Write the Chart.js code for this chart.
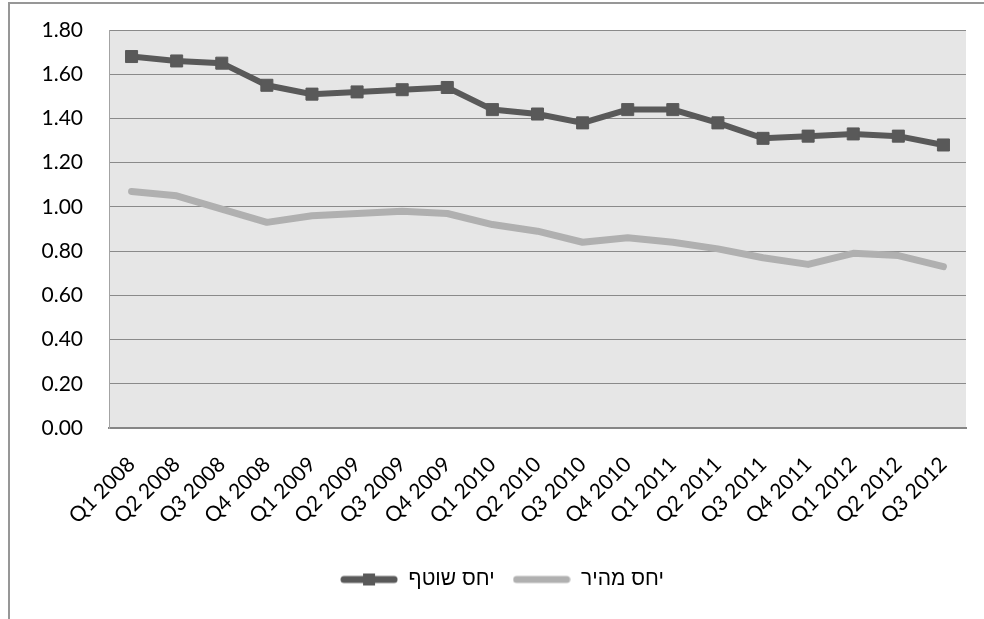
<!DOCTYPE html>
<html>
<head>
<meta charset="utf-8">
<script src="https://cdn.jsdelivr.net/npm/chart.js@4.4.1/dist/chart.umd.min.js"></script>
<style>
  html, body { margin: 0; padding: 0; background: #ffffff; overflow: hidden; }
  #wrap { position: relative; width: 984px; height: 619px; }
  #frame { position: absolute; left: 8px; top: 2px; width: 1000px; height: 700px;
           border-left: 2px solid #979797; border-top: 2px solid #979797; box-sizing: border-box; }
  #c { position: absolute; left: 0; top: 0; }
</style>
</head>
<body>
<div id="wrap">
  <div id="frame"></div>
  <canvas id="c" width="984" height="619"></canvas>
</div>
<script>
// Quarters on the horizontal axis
const quarters = [
  'Q1 2008', 'Q2 2008', 'Q3 2008', 'Q4 2008',
  'Q1 2009', 'Q2 2009', 'Q3 2009', 'Q4 2009',
  'Q1 2010', 'Q2 2010', 'Q3 2010', 'Q4 2010',
  'Q1 2011', 'Q2 2011', 'Q3 2011', 'Q4 2011',
  'Q1 2012', 'Q2 2012', 'Q3 2012'
];

// Current ratio
const currentRatio = [
  1.68, 1.66, 1.65, 1.55,
  1.51, 1.52, 1.53, 1.54,
  1.44, 1.42, 1.38, 1.44,
  1.44, 1.38, 1.31, 1.32,
  1.33, 1.32, 1.28
];

// Quick ratio
const quickRatio = [
  1.07, 1.05, 0.99, 0.93,
  0.96, 0.97, 0.98, 0.97,
  0.92, 0.89, 0.84, 0.86,
  0.84, 0.81, 0.77, 0.74,
  0.79, 0.78, 0.73
];

const seriesNames = ['יחס שוטף', 'יחס מהיר'];
const yTicks = [0, 0.2, 0.4, 0.6, 0.8, 1.0, 1.2, 1.4, 1.6, 1.8];

const DARK = '#595959';
const LIGHT = '#b0b0b0';

// Legend swatches: a thick line, with a square marker for the current ratio
function makeSwatch(color, withMarker) {
  const cv = document.createElement('canvas');
  cv.width = 58; cv.height = 14;
  const g = cv.getContext('2d');
  g.strokeStyle = color;
  g.lineWidth = 7;
  g.lineCap = 'round';
  g.beginPath(); g.moveTo(4, 7); g.lineTo(54, 7); g.stroke();
  if (withMarker) {
    g.fillStyle = color;
    g.fillRect(23, 1, 12, 12);
  }
  return cv;
}
const swatches = [makeSwatch(DARK, true), makeSwatch(LIGHT, false)];

// Grey plot-area fill
const plotBackground = {
  id: 'plotBackground',
  beforeDraw(chart) {
    const { ctx, chartArea: a } = chart;
    ctx.save();
    ctx.fillStyle = '#e6e6e6';
    ctx.fillRect(a.left, a.top, a.right - a.left, a.bottom - a.top);
    ctx.restore();
  }
};

const tickFont = { family: 'Lato, "Liberation Sans", sans-serif', size: 21 };

new Chart(document.getElementById('c'), {
  type: 'line',
  data: {
    labels: quarters,
    datasets: [
      {
        label: seriesNames[0],
        data: currentRatio,
        borderColor: DARK,
        backgroundColor: DARK,
        borderWidth: 6,
        tension: 0,
        pointStyle: 'rect',
        pointRadius: 8.5,
        pointBorderWidth: 1,
        pointBackgroundColor: DARK,
        pointBorderColor: DARK,
        fill: false
      },
      {
        label: seriesNames[1],
        data: quickRatio,
        borderColor: LIGHT,
        backgroundColor: LIGHT,
        borderWidth: 7,
        borderCapStyle: 'round',
        borderJoinStyle: 'round',
        tension: 0,
        pointRadius: 0,
        fill: false
      }
    ]
  },
  options: {
    responsive: false,
    animation: false,
    devicePixelRatio: 1,
    layout: { padding: { left: 38, right: 18, top: 30, bottom: 19 } },
    plugins: {
      tooltip: { enabled: false },
      legend: {
        position: 'bottom',
        labels: {
          usePointStyle: true,
          pointStyleWidth: 58,
          boxHeight: 14,
          padding: 18,
          color: '#000000',
          font: { family: '"Liberation Sans", Arial, sans-serif', size: 21 },
          generateLabels(chart) {
            return chart.data.datasets.map((ds, i) => ({
              text: ds.label,
              pointStyle: swatches[i],
              fillStyle: ds.borderColor,
              strokeStyle: 'rgba(0,0,0,0)',
              lineWidth: 0,
              hidden: !chart.isDatasetVisible(i),
              datasetIndex: i
            }));
          }
        }
      }
    },
    scales: {
      x: {
        type: 'category',
        offset: true,
        grid: { display: false },
        border: { display: true, color: '#868686', width: 2 },
        ticks: {
          autoSkip: false,
          maxRotation: 45,
          minRotation: 45,
          padding: 16,
          color: '#000000',
          font: tickFont
        },
        afterFit(scale) { scale.height = 123; }
      },
      y: {
        min: 0,
        max: 1.8,
        afterBuildTicks(scale) { scale.ticks = yTicks.map(v => ({ value: v })); },
        grid: { color: '#8a8a8a', lineWidth: 1, drawTicks: false },
        border: { display: true, color: '#a3a3a3', width: 1 },
        ticks: {
          padding: 26,
          color: '#000000',
          font: tickFont,
          callback: v => Number(v).toFixed(2)
        },
        afterFit(scale) {
          scale.width = 71;
          // keep the label gap from growing the vertical padding
          scale.paddingTop = 12;
          scale.paddingBottom = 12;
        }
      }
    }
  },
  plugins: [plotBackground]
});
</script>
</body>
</html>
